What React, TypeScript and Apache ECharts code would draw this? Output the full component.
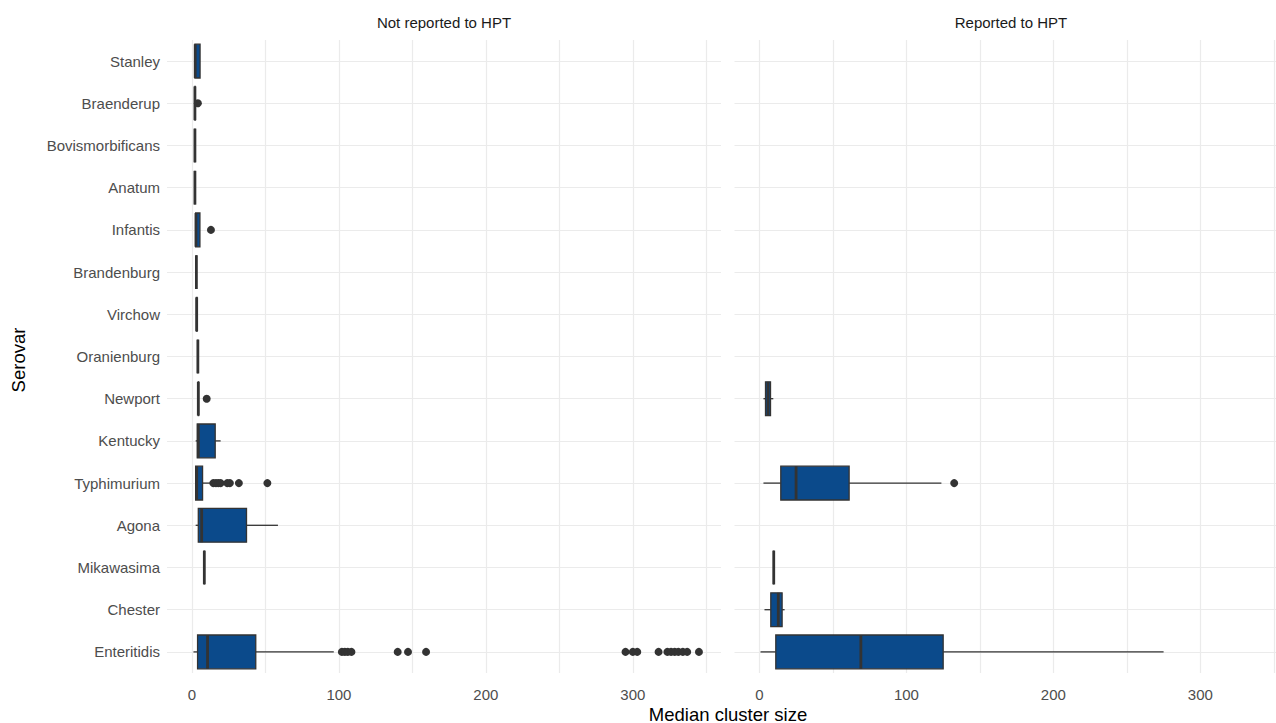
import React, { useEffect, useRef } from "react";
import * as echarts from "echarts";

// Serovars, top to bottom
const serovars = [
  "Stanley", "Braenderup", "Bovismorbificans", "Anatum", "Infantis", "Brandenburg",
  "Virchow", "Oranienburg", "Newport", "Kentucky", "Typhimurium", "Agona",
  "Mikawasima", "Chester", "Enteritidis",
];

// Box statistics: [serovar, min (whisker), Q1, median, Q3, max (whisker)]
const notReportedBoxes: [string, number, number, number, number, number][] = [
  ["Stanley", 2, 2, 2.2, 5.5, 5.5],
  ["Braenderup", 1.8, 2, 2, 2.2, 2.4],
  ["Bovismorbificans", 2, 2, 2, 2, 2],
  ["Anatum", 2, 2, 2, 2, 2],
  ["Infantis", 2.5, 2.5, 2.7, 5.4, 5.4],
  ["Brandenburg", 3, 3, 3, 3, 3],
  ["Virchow", 3, 3, 3.2, 3.5, 3.5],
  ["Oranienburg", 4, 4, 4, 4, 4],
  ["Newport", 4.3, 4.3, 4.3, 4.5, 4.5],
  ["Kentucky", 2.5, 3.6, 4.3, 15.8, 19.5],
  ["Typhimurium", 2.5, 2.5, 3.2, 7.2, 12.7],
  ["Agona", 2.5, 4.3, 6.6, 37.1, 58.5],
  ["Mikawasima", 8.4, 8.4, 8.4, 8.4, 8.4],
  ["Enteritidis", 1, 3.8, 10.6, 43.4, 96.5],
];

const reportedBoxes: [string, number, number, number, number, number][] = [
  ["Newport", 2.7, 4.1, 5.8, 7.5, 9.4],
  ["Typhimurium", 2.7, 14.5, 24.9, 61, 123.8],
  ["Mikawasima", 9.7, 9.7, 9.7, 9.7, 9.7],
  ["Chester", 3.4, 7.7, 12.8, 15.4, 17.1],
  ["Enteritidis", 0.7, 11.1, 69, 125, 275],
];

// Outliers: [serovar, value]
const notReportedOutliers: [string, number][] = [
  ["Braenderup", 4],
  ["Infantis", 12.9],
  ["Newport", 10],
  ["Typhimurium", 14.5], ["Typhimurium", 16.3], ["Typhimurium", 17.9], ["Typhimurium", 19.5],
  ["Typhimurium", 24], ["Typhimurium", 25.8], ["Typhimurium", 31.9], ["Typhimurium", 51.3],
  ["Enteritidis", 102], ["Enteritidis", 104], ["Enteritidis", 106], ["Enteritidis", 108.5],
  ["Enteritidis", 140], ["Enteritidis", 147], ["Enteritidis", 159.3],
  ["Enteritidis", 295], ["Enteritidis", 300], ["Enteritidis", 303],
  ["Enteritidis", 317.5], ["Enteritidis", 323.5], ["Enteritidis", 326], ["Enteritidis", 328.5],
  ["Enteritidis", 331], ["Enteritidis", 334], ["Enteritidis", 337], ["Enteritidis", 345],
];

const reportedOutliers: [string, number][] = [["Typhimurium", 132.5]];

// Axis ticks and panel titles
const xMajorTicks = [0, 100, 200, 300];
const xGridValues = [0, 50, 100, 150, 200, 250, 300, 350];
const panelTitles = ["Not reported to HPT", "Reported to HPT"];

const FONT = "'Liberation Sans', Arial, Helvetica, sans-serif";
const BOX_FILL = "#0B4A8B";
const LINE = "#333333";
const GRID = "#EBEBEB";

function renderBox(_params: any, api: any) {
  const cat = api.value(0);
  const vals = [1, 2, 3, 4, 5].map((i) => api.value(i));
  const yc = api.coord([0, cat])[1];
  const band = api.size([0, 1])[1];
  const h = band * 0.8;
  const xs = vals.map((v: number) => api.coord([v, cat])[0]);
  const top = yc - h / 2;
  return {
    type: "group",
    children: [
      { type: "line", shape: { x1: xs[0], y1: yc, x2: xs[1], y2: yc }, style: { stroke: LINE, lineWidth: 1.3 } },
      { type: "line", shape: { x1: xs[3], y1: yc, x2: xs[4], y2: yc }, style: { stroke: LINE, lineWidth: 1.3 } },
      {
        type: "rect",
        shape: { x: xs[1], y: top, width: Math.max(xs[3] - xs[1], 0), height: h },
        style: { fill: BOX_FILL, stroke: LINE, lineWidth: 1.3 },
      },
      { type: "line", shape: { x1: xs[2], y1: top, x2: xs[2], y2: top + h }, style: { stroke: LINE, lineWidth: 2.8 } },
    ],
  };
}

export default function App() {
  const ref = useRef<HTMLDivElement>(null);

  useEffect(() => {
    if (!ref.current) return;
    const chart = echarts.init(ref.current, undefined, { renderer: "svg" });

    const boxData = (rows: typeof notReportedBoxes) =>
      rows.map((r) => [serovars.indexOf(r[0]), r[1], r[2], r[3], r[4], r[5]]);
    const outData = (rows: [string, number][]) => rows.map((r) => [r[1], serovars.indexOf(r[0])]);

    const gridMarkLine = {
      silent: true,
      z: 0,
      symbol: ["none", "none"],
      label: { show: false },
      emphasis: { disabled: true },
      lineStyle: { color: GRID, type: "solid", width: 1.2 },
      animation: false,
      data: [
        ...xGridValues.map((v) => ({ xAxis: v })),
        ...serovars.map((s) => ({ yAxis: s })),
      ],
    };

    const xAxisBase = (gridIndex: number) => ({
      type: "value",
      gridIndex,
      min: -17,
      max: 360,
      axisLine: { show: false },
      axisTick: { show: false },
      splitLine: { show: false },
      axisLabel: {
        show: true,
        showMinLabel: false,
        showMaxLabel: false,
        margin: 14,
        color: "#4D4D4D",
        fontSize: 15,
        fontFamily: FONT,
        formatter: (v: number) => (xMajorTicks.indexOf(v) >= 0 ? String(v) : ""),
      },
    });

    const yAxisBase = (gridIndex: number, showLabels: boolean) => ({
      type: "category",
      gridIndex,
      data: serovars,
      inverse: true,
      axisLine: { show: false },
      axisTick: { show: false },
      splitLine: { show: false },
      axisLabel: {
        show: showLabels,
        margin: 7,
        color: "#4D4D4D",
        fontSize: 15,
        fontFamily: FONT,
      },
    });

    const scatterBase = {
      type: "scatter",
      z: 3,
      symbol: "circle",
      symbolSize: 8,
      itemStyle: { color: LINE, opacity: 1 },
      silent: true,
    };

    const option: any = {
      animation: false,
      backgroundColor: "#FFFFFF",
      textStyle: { fontFamily: FONT },
      grid: [
        { left: 167, top: 40, width: 554, height: 633, containLabel: false, outerBoundsMode: "none" },
        { left: 734.5, top: 40, width: 554, height: 633, containLabel: false, outerBoundsMode: "none" },
      ],
      xAxis: [xAxisBase(0), xAxisBase(1)],
      yAxis: [yAxisBase(0, true), yAxisBase(1, false)],
      series: [
        {
          type: "custom",
          xAxisIndex: 0,
          yAxisIndex: 0,
          z: 2,
          renderItem: renderBox,
          encode: { x: [1, 2, 3, 4, 5], y: 0 },
          data: boxData(notReportedBoxes),
          markLine: gridMarkLine,
          silent: true,
        },
        {
          type: "custom",
          xAxisIndex: 1,
          yAxisIndex: 1,
          z: 2,
          renderItem: renderBox,
          encode: { x: [1, 2, 3, 4, 5], y: 0 },
          data: boxData(reportedBoxes),
          markLine: gridMarkLine,
          silent: true,
        },
        { ...scatterBase, xAxisIndex: 0, yAxisIndex: 0, data: outData(notReportedOutliers) },
        { ...scatterBase, xAxisIndex: 1, yAxisIndex: 1, data: outData(reportedOutliers) },
      ],
      graphic: [
        {
          type: "text",
          x: 444,
          y: 22,
          style: {
            text: panelTitles[0],
            fill: "#1A1A1A",
            fontSize: 15,
            fontFamily: FONT,
            textAlign: "center",
            textVerticalAlign: "middle",
          },
        },
        {
          type: "text",
          x: 1011,
          y: 22,
          style: {
            text: panelTitles[1],
            fill: "#1A1A1A",
            fontSize: 15,
            fontFamily: FONT,
            textAlign: "center",
            textVerticalAlign: "middle",
          },
        },
        {
          type: "text",
          x: 728,
          y: 714,
          style: {
            text: "Median cluster size",
            fill: "#000000",
            fontSize: 18.5,
            fontFamily: FONT,
            textAlign: "center",
            textVerticalAlign: "middle",
          },
        },
        {
          type: "text",
          x: 18,
          y: 360,
          rotation: Math.PI / 2,
          style: {
            text: "Serovar",
            fill: "#000000",
            fontSize: 18.5,
            fontFamily: FONT,
            textAlign: "center",
            textVerticalAlign: "middle",
          },
        },
      ],
    };

    chart.setOption(option);
    return () => chart.dispose();
  }, []);

  return (
    <div
      ref={ref}
      style={{ position: "fixed", top: 0, left: 0, width: 1276, height: 723, background: "#fff" }}
    />
  );
}
